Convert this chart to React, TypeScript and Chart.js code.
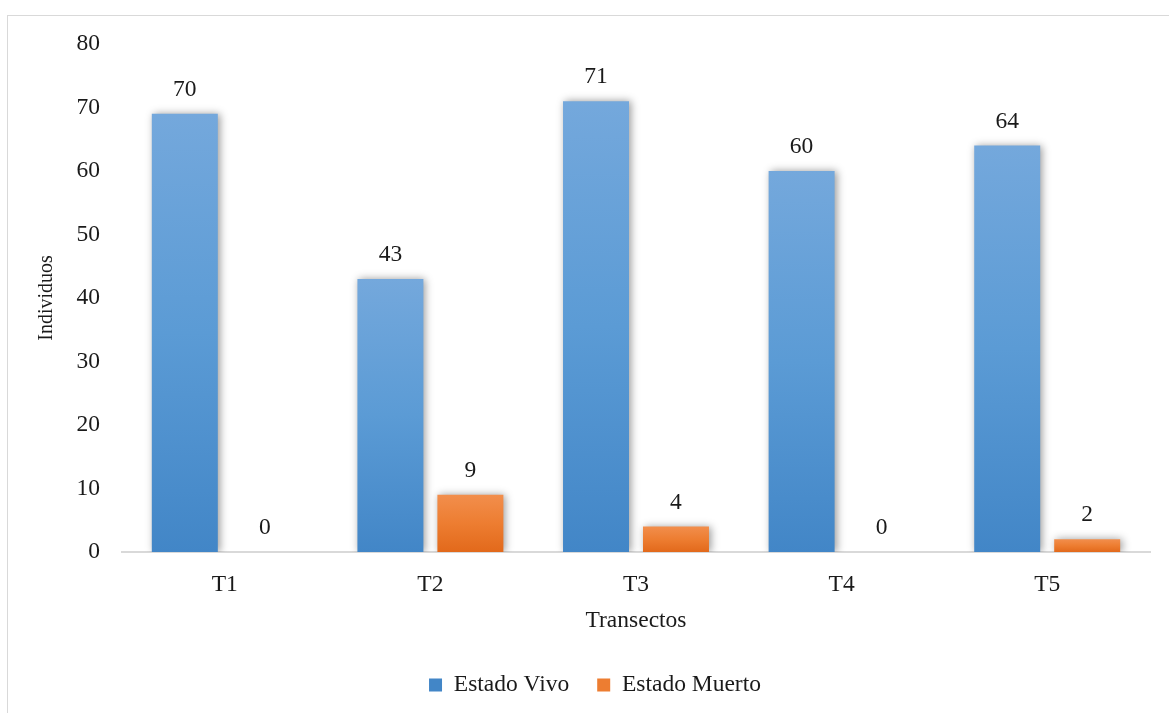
import React, { useEffect, useRef } from "react";
import { Chart, registerables } from "chart.js";

Chart.register(...registerables);

const categories = ["T1", "T2", "T3", "T4", "T5"];
const vivoValues = [69, 43, 71, 60, 64];
const vivoLabels = ["70", "43", "71", "60", "64"];
const muertoValues = [0, 9, 4, 0, 2];
const muertoLabels = ["0", "9", "4", "0", "2"];
const yMin = 0;
const yMax = 80;
const yStep = 10;

const FONT = "'Liberation Serif', 'Times New Roman', serif";
const TEXT = "#1a1a1a";
const FS = 23.5;

const makeGradient = (top: string, mid: string, bottom: string) => (ctx: any) => {
  const chart = ctx.chart;
  if (ctx.type !== "data" || !chart.chartArea || !chart.scales.y) return mid;
  const ys = chart.scales.y;
  const v = ctx.raw as number;
  const yTop = ys.getPixelForValue(v);
  const yBase = ys.getPixelForValue(0);
  if (yBase - yTop < 1) return mid;
  const g = chart.ctx.createLinearGradient(0, yTop, 0, yBase);
  g.addColorStop(0, top);
  g.addColorStop(0.5, mid);
  g.addColorStop(1, bottom);
  return g;
};

const frameAndShadow = {
  id: "frameAndShadow",
  afterLayout(chart: any) {
    const lg = chart.legend;
    if (lg) {
      lg.left += 20;
      lg.right += 20;
    }
  },
  beforeDraw(chart: any) {
    const c = chart.ctx;
    c.save();
    c.fillStyle = "#ffffff";
    c.fillRect(0, 0, chart.width, chart.height);
    c.strokeStyle = "#d9d9d9";
    c.lineWidth = 1;
    c.strokeRect(7.5, 15.5, chart.width + 10, chart.height + 10);
    c.restore();
  },
  beforeDatasetDraw(chart: any) {
    const c = chart.ctx;
    c.save();
    c.shadowColor = "rgba(0,0,0,0.4)";
    c.shadowBlur = 8;
    c.shadowOffsetX = 2;
    c.shadowOffsetY = 0;
  },
  afterDatasetDraw(chart: any) {
    chart.ctx.restore();
  },
  afterDatasetsDraw(chart: any) {
    const c = chart.ctx;
    const labelSets = [vivoLabels, muertoLabels];
    c.save();
    c.font = `${FS}px ${FONT}`;
    c.fillStyle = TEXT;
    c.textAlign = "center";
    c.textBaseline = "middle";
    chart.data.datasets.forEach((_: any, di: number) => {
      const meta = chart.getDatasetMeta(di);
      meta.data.forEach((el: any, i: number) => {
        c.fillText(labelSets[di][i], el.x, el.y - 24);
      });
    });
    c.restore();
  },
};

export default function App() {
  const ref = useRef<HTMLCanvasElement | null>(null);

  useEffect(() => {
    if (!ref.current) return;
    const chart = new Chart(ref.current, {
      type: "bar",
      data: {
        labels: categories,
        datasets: [
          {
            label: "Estado Vivo",
            data: vivoValues,
            backgroundColor: makeGradient("#74a8dc", "#5b9bd5", "#4286c7"),
            borderWidth: 0,
            categoryPercentage: 0.778,
            barPercentage: 0.825,
          },
          {
            label: "Estado Muerto",
            data: muertoValues,
            backgroundColor: makeGradient("#f28e4c", "#ed7d31", "#e2691b"),
            borderWidth: 0,
            categoryPercentage: 0.778,
            barPercentage: 0.825,
          },
        ],
      },
      options: {
        responsive: false,
        animation: false,
        layout: { padding: { top: 44, right: 19, bottom: 6.25, left: 0 } },
        plugins: {
          tooltip: { enabled: false },
          legend: {
            position: "bottom",
            labels: {
              boxWidth: 13,
              boxHeight: 13,
              padding: 28,
              color: TEXT,
              font: { family: FONT, size: FS },
            },
          },
        },
        scales: {
          x: {
            grid: { display: false },
            border: { display: true, color: "#d9d9d9", width: 2 },
            ticks: { color: TEXT, padding: 10.5, font: { family: FONT, size: FS } },
            title: {
              display: true,
              text: "Transectos",
              color: TEXT,
              font: { family: FONT, size: FS },
              padding: { top: 0, bottom: 10 },
            },
            afterFit: (s: any) => {
              s.height = 93.25;
            },
          },
          y: {
            min: yMin,
            max: yMax,
            grid: { display: false },
            border: { display: false },
            ticks: { stepSize: yStep, color: TEXT, padding: 14, font: { family: FONT, size: FS } },
            title: {
              display: true,
              text: "Individuos",
              color: TEXT,
              font: { family: FONT, size: 20 },
              padding: { top: 35, bottom: 0 },
            },
            afterFit: (s: any) => {
              s.width = 122;
            },
          },
        },
      },
      plugins: [frameAndShadow],
    });
    return () => chart.destroy();
  }, []);

  return (
    <div style={{ position: "fixed", left: 0, top: 0, width: 1169, height: 713, background: "#fff" }}>
      <canvas ref={ref} width={1169} height={713} />
    </div>
  );
}
